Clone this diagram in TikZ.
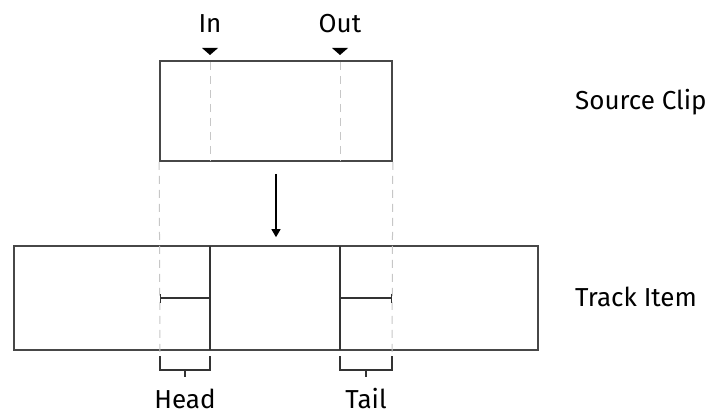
\documentclass[tikz,border=0pt]{standalone}
\usepackage{fontspec}
\setmainfont{Fira Sans}
\usetikzlibrary{positioning,arrows.meta}

\begin{document}
\begin{tikzpicture}[x=1pt, y=-1pt, font=\fontsize{26}{30}\selectfont,
    clipbox/.style={draw=black!72, line width=1.6pt, inner sep=0pt},
    guide/.style={draw=black!22, line width=1pt, dash pattern=on 8pt off 6pt},
    cut/.style={draw=black!80, line width=1.3pt},
    marker/.style={fill=black},
    tag/.style={inner sep=0pt},
    flow/.style={draw=black, line width=1.2pt, -{Triangle[width=9pt,length=8pt]}}]
  \useasboundingbox (0,0) rectangle (723,417);

  % clips
  \node[clipbox, minimum width=232pt, minimum height=100pt] (source) at (276,111) {};
  \node[clipbox, minimum width=524pt, minimum height=104pt] (track) at (276,298) {};

  % in / out points
  \coordinate (in)  at (210,61);
  \coordinate (out) at (340,61);
  \node[tag] (inlabel)  at (210,24) {In};
  \node[tag] (outlabel) at (340,24) {Out};
  \fill[marker] (in)  ++(0,-6) -- ++(-8,-7) -- ++(16,0) -- cycle;
  \fill[marker] (out) ++(0,-6) -- ++(-8,-7) -- ++(16,0) -- cycle;

  % guides
  \draw[guide] ([yshift=-1pt]in) -- (210,161);
  \draw[guide] ([yshift=-1pt]out) -- (340,161);
  \draw[guide] (source.south west) -- (160,356);
  \draw[guide] (source.south east) -- (392,356);

  \draw[flow] ([yshift=-12pt]source.south) -- ([yshift=8pt]track.north);

  % head and tail
  \draw[cut] (210,246) -- (210,350);
  \draw[cut] (340,246) -- (340,350);
  \draw[cut, {Bar[width=9pt]}-] (160,298) -- (210,298);
  \draw[cut, -{Bar[width=9pt]}] (340,298) -- (392,298);
  \draw[cut] (160,356) -- (160,370) -- (210,370) -- (210,356);
  \draw[cut] (340,356) -- (340,370) -- (392,370) -- (392,356);
  \draw[cut] (185,370) -- (185,377);
  \draw[cut] (366,370) -- (366,377);
  \node[tag, anchor=base] (head) at (185,408) {Head};
  \node[tag, anchor=base] (tail) at (366,408) {Tail};

  % names
  \node[tag, anchor=west] (sourcelabel) at (575,102) {Source Clip};
  \node[tag, anchor=west] (tracklabel)  at (575,297) {Track Item};
\end{tikzpicture}
\end{document}
